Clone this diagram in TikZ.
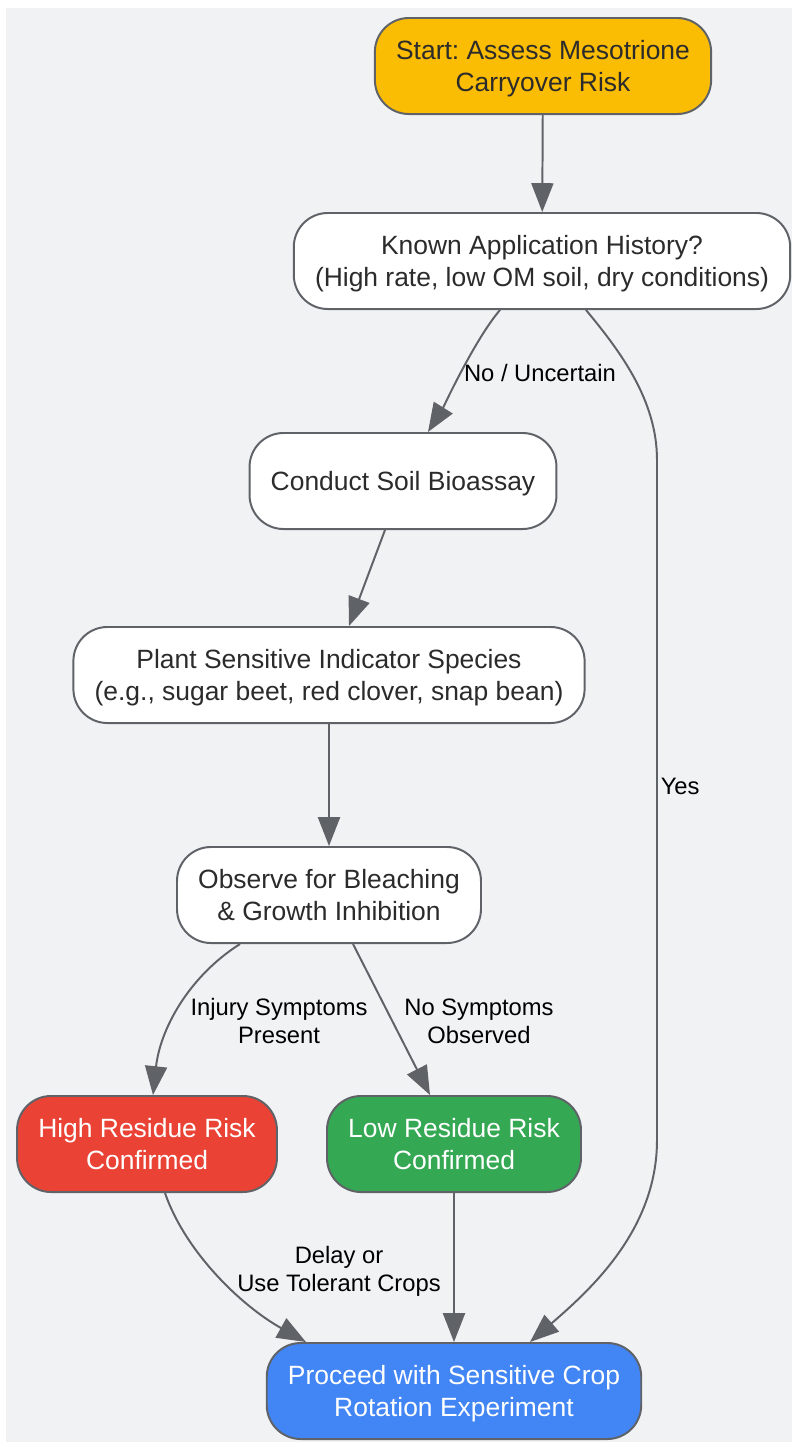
\documentclass[tikz,border=0pt]{standalone}
\usepackage{fontspec}
\setmainfont{Liberation Sans}
\usepackage{tikz}
\usetikzlibrary{arrows.meta,calc}
\frenchspacing
\definecolor{edgegray}{HTML}{5F6368}
\definecolor{bggray}{HTML}{F1F2F4}
\definecolor{startyellow}{HTML}{FBBC04}
\definecolor{riskred}{HTML}{EA4335}
\definecolor{riskgreen}{HTML}{34A853}
\definecolor{goblue}{HTML}{4285F4}
\definecolor{txtgray}{HTML}{2B2B2B}

\begin{document}
\begin{tikzpicture}[x=0.025cm,y=-0.025cm,% 1 unit = 1 px of the layout, y grows downward
			every node/.style={
				align=center,		% so that "\\" breaks the line
				font=\fontsize{18.8}{22.7}\selectfont
			},
			box/.style={
				rectangle,rounded corners=0.85cm,draw=edgegray,line width=1.4pt,
				fill=white,text=txtgray,minimum height=2.4cm,inner xsep=0.53cm,
				text depth=0pt		% centres the lines like the original
			},
			lbl/.style={font=\fontsize{16.9}{19.9}\selectfont,text=black,inner sep=2pt},
			flow/.style={draw=edgegray,line width=1.4pt,-{Triangle[length=0.72cm,width=0.55cm]}},
			every edge/.style={flow}
		]
		\useasboundingbox (0,0) rectangle (792,1442);
		\fill[bggray] (6,8) rectangle (792,1442);

		\node[box,fill=startyellow](Start) at (543,66) {Start: Assess Mesotrione\\Carryover Risk};
		\node[box](Hist) at (542,261) {Known Application History?\\(High rate, low OM soil, dry conditions)};
		\node[box](Bio) at (403,481) {Conduct Soil Bioassay};
		\node[box](Plant) at (329,675) {Plant Sensitive Indicator Species\\(e.g., sugar beet, red clover, snap bean)};
		\node[box](Obs) at (329,895) {Observe for Bleaching\\\& Growth Inhibition};
		\node[box,fill=riskred,text=white](High) at (147,1144) {High Residue Risk\\Confirmed};
		\node[box,fill=riskgreen,text=white](Low) at (454,1144) {Low Residue Risk\\Confirmed};
		\node[box,fill=goblue,text=white](Exp) at (454,1391) {Proceed with Sensitive Crop\\Rotation Experiment};

		\path
		(Start)edge []	node [] {} (Hist)
		($(Bio.south)+(-18,0)$)edge []	node [] {} ($(Plant.north)+(20,0)$)
		(Plant)edge []	node [] {} (Obs)
		(Low)edge []	node [] {} (Exp)
		;
		% curved connectors
		\draw[flow] ($(Hist.south)+(-42,0)$) .. controls +(-25,29) and +(15,-24) ..
			node[lbl,right,pos=.5] {No / Uncertain} ($(Bio.north)+(25,0)$);
		\draw[flow] ($(Hist.south)+(44,0)$) .. controls +(34,41) and +(0,-60) .. (657,460)
			-- node[lbl,right,pos=.48] {Yes} (657,1140)
			.. controls +(0,90) and +(60,-52) .. ($(Exp.north)+(76,0)$);
		\draw[flow] ($(Obs.south)+(-89,0)$) .. controls +(-52,33) and +(7,-65) ..
			($(High.north)+(6,0)$);
		\draw[flow] ($(Obs.south)+(24,0)$) -- ($(Low.north)+(-24,0)$);
		\draw[flow] ($(High.south)+(18,0)$) .. controls +(20,58) and +(-66,-37) ..
			($(Exp.north)+(-148,0)$);

		\node[lbl](InjLbl) at (279,1021) {Injury Symptoms\\Present};
		\node[lbl](NoLbl) at (479,1021) {No Symptoms\\Observed};
		\node[lbl](DelayLbl) at (339,1271) {Delay or\\Use Tolerant Crops};
	\end{tikzpicture}
\end{document}
